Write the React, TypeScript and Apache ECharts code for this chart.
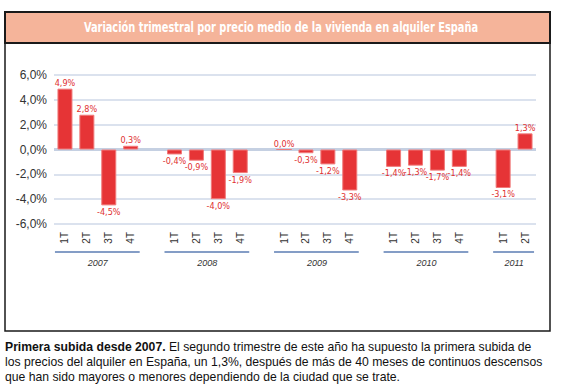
import React, { useEffect, useRef } from "react";
import * as echarts from "echarts";

const titleText = "Variación trimestral por precio medio de la vivienda en alquiler España";
const years = ["2007", "2008", "2009", "2010", "2011"];
const quarters2007 = ["1T", "2T", "3T", "4T"];
const quarters2008 = ["1T", "2T", "3T", "4T"];
const quarters2009 = ["1T", "2T", "3T", "4T"];
const quarters2010 = ["1T", "2T", "3T", "4T"];
const quarters2011 = ["1T", "2T"];
const values2007 = [4.9, 2.8, -4.5, 0.3];
const values2008 = [-0.4, -0.9, -4.0, -1.9];
const values2009 = [0.0, -0.3, -1.2, -3.3];
const values2010 = [-1.4, -1.3, -1.7, -1.4];
const values2011 = [-3.1, 1.3];
const yTicks = { min: -6, max: 6, interval: 2 };
const noteBold = "Primera subida desde 2007.";
const noteLines = [
  " El segundo trimestre de este año ha supuesto la primera subida de",
  "los precios del alquiler en España, un 1,3%, después de más de 40 meses de continuos descensos",
  "que han sido mayores o menores dependiendo de la ciudad que se trate.",
];

const groupQuarters = [quarters2007, quarters2008, quarters2009, quarters2010, quarters2011];
const groupValues = [values2007, values2008, values2009, values2010, values2011];

const fmt = (v: number) => v.toFixed(1).replace(".", ",") + "%";

export default function App() {
  const ref = useRef<HTMLDivElement>(null);
  useEffect(() => {
    if (!ref.current) return;
    const chart = echarts.init(ref.current, undefined, { renderer: "svg" });

    const categories: string[] = [];
    const data: any[] = [];
    const groups: { start: number; end: number; year: string }[] = [];
    groupQuarters.forEach((qs, gi) => {
      const start = categories.length;
      qs.forEach((q, qi) => {
        categories.push(q);
        const v = groupValues[gi][qi];
        data.push({
          value: v,
          label: { position: v < 0 ? "bottom" : "top", distance: v < 0 ? 2 : 1 },
        });
      });
      groups.push({ start, end: categories.length - 1, year: years[gi] });
      if (gi < groupQuarters.length - 1) {
        categories.push("");
        data.push("-");
      }
    });

    const narrow = "'Liberation Sans Narrow', 'DejaVu Sans Condensed', sans-serif";
    const sans = "'Liberation Sans', Arial, sans-serif";

    chart.setOption({
      animation: false,
      backgroundColor: "#ffffff",
      grid: { left: 54, right: 29, top: 75, bottom: 160, containLabel: false, outerBoundsMode: "none" },
      xAxis: {
        type: "category",
        data: categories,
        axisLine: { show: false },
        axisTick: { show: false },
        axisLabel: {
          rotate: 90,
          margin: 8,
          interval: 0,
          color: "#333333",
          fontSize: 10,
          fontFamily: sans,
        },
        splitLine: { show: false },
      },
      yAxis: {
        type: "value",
        min: yTicks.min,
        max: yTicks.max,
        interval: yTicks.interval,
        axisLine: { show: false },
        axisTick: { show: false },
        axisLabel: {
          formatter: (v: number) => fmt(v),
          color: "#333333",
          fontSize: 12,
          margin: 7,
          fontFamily: sans,
        },
        splitLine: { lineStyle: { color: "#cfd8e8", width: 1.5 } },
      },
      series: [
        {
          type: "bar",
          data,
          barWidth: 15,
          itemStyle: { color: "#e63436", borderColor: "#f07a7a", borderWidth: 1 },
          label: {
            show: true,
            formatter: (p: any) => fmt(p.value),
            color: "#e03030",
            fontSize: 9,
            fontFamily: narrow,
          },
          markLine: {
            silent: true,
            symbol: "none",
            label: { show: false },
            lineStyle: { color: "#c5d0e2", width: 3, type: "solid" },
            data: [{ yAxis: 0 }],
            z: 1,
          },
        },
      ],
    });

    const yearY = 252;
    const yearGraphics: any[] = [];
    groups.forEach((g) => {
      const x0 = chart.convertToPixel({ xAxisIndex: 0 }, g.start) as number;
      const x1 = chart.convertToPixel({ xAxisIndex: 0 }, g.end) as number;
      yearGraphics.push({
        type: "line",
        shape: { x1: x0 - 10, y1: yearY, x2: x1 + 9, y2: yearY },
        style: { stroke: "#5b7db3", lineWidth: 1.5 },
      });
      yearGraphics.push({
        type: "text",
        x: (x0 + x1) / 2,
        y: 263,
        style: {
          text: g.year,
          fill: "#333333",
          fontSize: 9,
          fontStyle: "italic",
          fontFamily: sans,
          align: "center",
          verticalAlign: "middle",
        },
      });
    });

    chart.setOption({
      graphic: [
        {
          type: "rect",
          shape: { x: 5, y: 12, width: 545, height: 319 },
          style: { fill: "none", stroke: "#1a1a1a", lineWidth: 1.5 },
          z: 10,
        },
        {
          type: "rect",
          shape: { x: 5, y: 12, width: 545, height: 31 },
          style: { fill: "#f5b49a", stroke: "#1a1a1a", lineWidth: 2 },
          z: 11,
        },
        {
          type: "text",
          x: 281,
          y: 28,
          scaleX: 0.81,
          z: 12,
          style: {
            text: titleText,
            fill: "#ffffff",
            fontSize: 13.5,
            fontWeight: "bold",
            fontFamily: narrow,
            align: "center",
            verticalAlign: "middle",
          },
        },
        {
          type: "text",
          x: 5,
          y: 339,
          z: 12,
          style: {
            text:
              "{b|" + noteBold + "}{n|" + noteLines[0] + "}\n{n|" + noteLines[1] + "}\n{n|" + noteLines[2] + "}",
            rich: {
              b: { fontWeight: "bold", fontSize: 12.2, fontFamily: sans, fill: "#111111", lineHeight: 15 },
              n: { fontSize: 12.2, fontFamily: sans, fill: "#111111", lineHeight: 15 },
            },
            align: "left",
            verticalAlign: "top",
          },
        },
        ...yearGraphics,
      ],
    });

    return () => chart.dispose();
  }, []);

  return (
    <div
      ref={ref}
      style={{ position: "absolute", left: 0, top: 0, width: 565, height: 384 }}
    />
  );
}
